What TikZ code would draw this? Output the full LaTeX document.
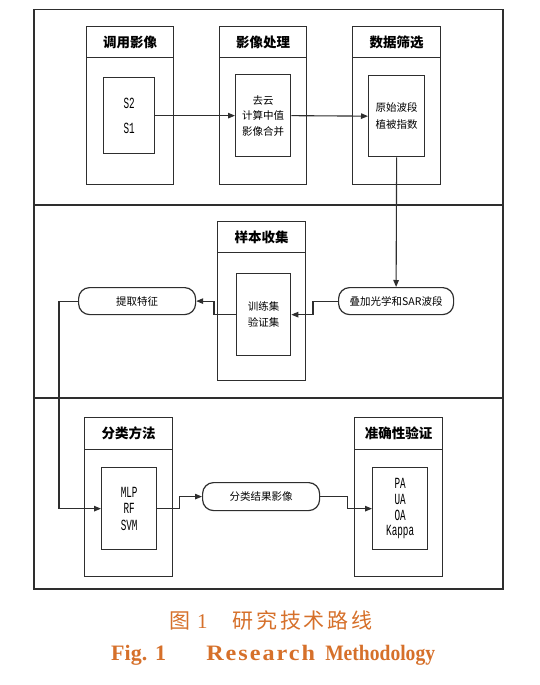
\documentclass[tikz,border=0pt]{standalone}
\usepackage{fontspec}
\usepackage{graphicx}
\setmainfont{Liberation Serif}
\newfontfamily\cjk{Noto Sans CJK SC}
\newfontfamily\cjkcap[LetterSpace=13]{Noto Sans CJK SC}
\newfontfamily\nmono[FakeStretch=0.6]{Liberation Mono}
\newfontfamily\wideserif[FakeStretch=1.1,LetterSpace=9]{Liberation Serif}
\usetikzlibrary{arrows.meta}
\definecolor{ln}{HTML}{2E2E2E}
\definecolor{capc}{RGB}{214,112,42}
\begin{document}
\begin{tikzpicture}[x=1pt,y=-1pt,
  lane/.style={draw=ln,line width=1.5pt,inner sep=0pt,anchor=north west},
  cont/.style={draw=ln,line width=1.3pt,inner sep=0pt,anchor=north west},
  hdr/.style={draw=ln,line width=1.3pt,inner sep=0pt,anchor=north west,
    font=\cjk\bfseries\fontsize{13.5}{15}\selectfont},
  inbox/.style={draw=ln,line width=1.3pt,inner sep=0pt,anchor=north west,align=center},
  zh/.style={font=\cjk\fontsize{10.5}{15.5}\selectfont},
  pill/.style={draw=ln,line width=1.2pt,rounded corners=11pt,inner sep=0pt,
    anchor=north west,font=\cjk\fontsize{10.5}{13}\selectfont},
  arr/.style={draw=ln,line width=1.1pt,-{Triangle[length=7pt,width=5.5pt]}},
  capt/.style={text=capc,inner sep=0pt}
]
\useasboundingbox (0,0) rectangle (540,685);
\fill[white] (0,0) rectangle (540,685);
% lanes
\node[lane,minimum width=469,minimum height=195] (r1) at (33,9) {};
\node[lane,minimum width=469,minimum height=193] (r2) at (33,204) {};
\node[lane,minimum width=469,minimum height=191] (r3) at (33,397) {};
% row 1
\node[cont,minimum width=87,minimum height=158] (c1) at (86,26) {};
\node[hdr,minimum width=87,minimum height=31] (h1) at (86,26) {调用影像};
\node[inbox,minimum width=51,minimum height=76,font=\nmono\fontsize{15.5}{25}\selectfont] (b1) at (103,77) {S2\\S1};
\node[cont,minimum width=87,minimum height=158] (c2) at (219,26) {};
\node[hdr,minimum width=87,minimum height=31] (h2) at (219,26) {影像处理};
\node[inbox,zh,minimum width=55,minimum height=82] (b2) at (235,74) {去云\\计算中值\\影像合并};
\node[cont,minimum width=88,minimum height=158] (c3) at (352,26) {};
\node[hdr,minimum width=88,minimum height=31] (h3) at (352,26) {数据筛选};
\node[inbox,minimum width=56,minimum height=81,font=\cjk\fontsize{10.5}{17}\selectfont] (b3) at (368,75) {原始波段\\植被指数};
% row 2
\node[cont,minimum width=88,minimum height=159] (c4) at (217,221) {};
\node[hdr,minimum width=88,minimum height=31] (h4) at (217,221) {样本收集};
\node[inbox,zh,minimum width=54,minimum height=82] (b4) at (236,273) {训练集\\验证集};
\node[pill,minimum width=115,minimum height=27] (o1) at (338,287) {叠加光学和SAR波段};
\node[pill,minimum width=117,minimum height=27] (o2) at (78,287) {提取特征};
% row 3
\node[cont,minimum width=88,minimum height=159] (c5) at (84,417) {};
\node[hdr,minimum width=88,minimum height=32] (h5) at (84,417) {分类方法};
\node[inbox,minimum width=55,minimum height=82,font=\nmono\fontsize{15.5}{16.5}\selectfont] (b5) at (101,467) {MLP\\RF\\SVM};
\node[cont,minimum width=88,minimum height=159] (c6) at (354,417) {};
\node[hdr,minimum width=88,minimum height=32] (h6) at (354,417) {准确性验证};
\node[inbox,minimum width=55,minimum height=82,font=\nmono\fontsize{15.5}{15.7}\selectfont] (b6) at (372,467) {PA\\UA\\OA\\Kappa};
\node[pill,minimum width=117,minimum height=28] (o3) at (202,482) {分类结果影像};
% connectors
\draw[arr] (b1.east) -- (b2.west);
\draw[arr] (b2.east) -- (b3.west);
\draw[arr] (b3.south) -- (o1.north);
\draw[arr] (o1.west) -- ++(-25,0) |- (b4.east);
\draw[arr] (b4.west) -- ++(-22,0) |- (o2.east);
\draw[arr] (o2.west) -- ++(-19,0) |- (b5.west);
\draw[arr] (b5.east) -- ++(22,0) |- (o3.west);
\draw[arr] (o3.east) -- ++(27,0) |- (b6.west);
% caption
\node[capt,anchor=base west,font=\fontsize{21}{23}\selectfont] (cap1) at (169,628) {{\cjk 图}\hspace{7pt}1\hspace{25pt}{\cjkcap 研究技术路线}};
\node[capt,anchor=base west,font=\bfseries\fontsize{22}{24}\selectfont] (cap2) at (111,660) {Fig.\hspace{8pt}1\hspace{40pt}\makebox[109pt][l]{\wideserif\bfseries Research}\hspace{10pt}\scalebox{0.89}[1]{Methodology}};
\end{tikzpicture}
\end{document}
